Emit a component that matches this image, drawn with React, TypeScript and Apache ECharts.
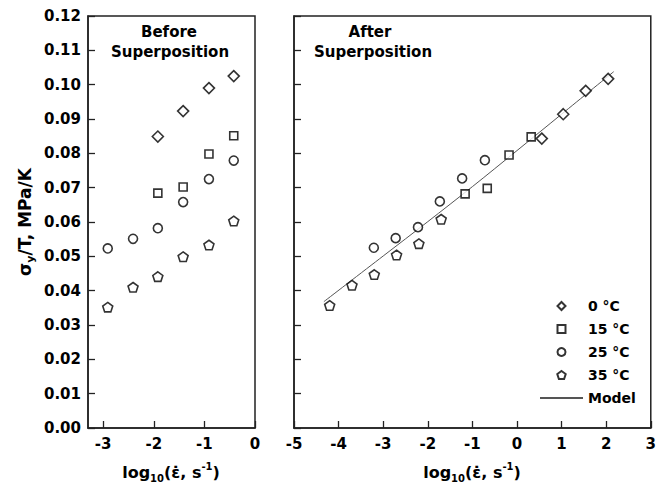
import React, { useEffect, useRef } from 'react';
import * as echarts from 'echarts';

const FONT = '"DejaVu Sans", "Liberation Sans", sans-serif';

// Before superposition
const beforeX6 = [-2.91, -2.41, -1.92, -1.42, -0.91, -0.42];
const beforeX4 = [-1.92, -1.42, -0.91, -0.42];
const before0C = [0.0849, 0.0923, 0.099, 0.1025];
const before15C = [0.0684, 0.0702, 0.0798, 0.0851];
const before25C = [0.0523, 0.0551, 0.0582, 0.0658, 0.0725, 0.0779];
const before35C = [0.0352, 0.041, 0.0441, 0.0499, 0.0533, 0.0603];

// After superposition
const after0X = [0.556, 1.037, 1.54, 2.044];
const after0C = [0.0843, 0.0914, 0.0982, 0.1017];
const after15X = [-1.163, -0.667, -0.178, 0.318];
const after15C = [0.0682, 0.0698, 0.0795, 0.0848];
const after25X = [-3.21, -2.72, -2.22, -1.73, -1.23, -0.72];
const after25C = [0.0525, 0.0553, 0.0585, 0.066, 0.0727, 0.078];
const after35X = [-4.2, -3.7, -3.2, -2.7, -2.2, -1.7];
const after35C = [0.0357, 0.0416, 0.0447, 0.0504, 0.0537, 0.0608];

// Model curve
const modelX = [-4.33, -3, -2, -1, 0, 1, 2.17];
const modelY = [0.0368, 0.0501, 0.0601, 0.0703, 0.0808, 0.0914, 0.1038];

const leftTicks = [-3, -2, -1, 0];
const seriesNames = ['0 °C', '15 °C', '25 °C', '35 °C', 'Model'];

const PENTAGON = 'path://M0,-10 L9.51,-3.09 L5.88,8.09 L-5.88,8.09 L-9.51,-3.09 Z';
const DIAMOND = 'path://M0,-10 L10,0 L0,10 L-10,0 Z';
const SQUARE = 'path://M0,0 L10,0 L10,10 L0,10 Z';

const zip = (xs: number[], ys: number[]) => xs.map((x, i) => [x, ys[i]]);

const markerStyle = { color: '#fff', borderColor: '#000', borderWidth: 1.6 };

function scatter(name: string, idx: number, xs: number[], ys: number[], symbol: string, size: number) {
  return {
    type: 'scatter',
    name,
    xAxisIndex: idx,
    yAxisIndex: idx,
    data: zip(xs, ys),
    symbol,
    symbolSize: size,
    symbolKeepAspect: true,
    itemStyle: markerStyle,
    emphasis: { disabled: true },
    z: 3,
  };
}

export default function App() {
  const ref = useRef<HTMLDivElement>(null);
  useEffect(() => {
    document.body.style.margin = '0';
    const chart = echarts.init(ref.current!, null, { renderer: 'svg' });
    const axisLine = { show: true, onZero: false, lineStyle: { color: '#222', width: 1.5 } };
    const labelStyle = { color: '#000', fontFamily: FONT, fontWeight: 'bold' as const, fontSize: 15 };
    const yAxisBase = {
      type: 'value',
      min: 0,
      max: 0.12,
      interval: 0.01,
      axisLine,
      axisTick: { show: true, inside: true, length: 7, lineStyle: { color: '#222', width: 1.3 } },
      splitLine: { show: false },
    };
    const sub = { fontFamily: FONT, fontWeight: 'bold', fontSize: 10, lineHeight: 10, verticalAlign: 'bottom', fill: '#000', color: '#000' };
    const sup = { fontFamily: FONT, fontWeight: 'bold', fontSize: 10, lineHeight: 10, verticalAlign: 'top', fill: '#000', color: '#000' };
    const main = { fontFamily: FONT, fontWeight: 'bold', fontSize: 16, lineHeight: 22, fill: '#000', color: '#000' };
    const xTitle = '{n|log}{s|10}{n|(ε\u0307, s}{p|-1}{n|)}';
    const titleFont = 'bold 15px ' + FONT;
    const option: any = {
      animation: false,
      backgroundColor: '#fff',
      grid: [
        { left: 88, top: 16, width: 167, height: 412, show: true, borderColor: '#222', borderWidth: 1.5, backgroundColor: 'transparent' },
        { left: 294, top: 16, width: 357, height: 412, show: true, borderColor: '#222', borderWidth: 1.5, backgroundColor: 'transparent' },
      ],
      xAxis: [
        {
          type: 'value',
          gridIndex: 0,
          min: -3.3,
          max: 0,
          axisLine,
          axisTick: { show: true, inside: true, length: 7, customValues: leftTicks, lineStyle: { color: '#222', width: 1.3 } },
          axisLabel: { ...labelStyle, margin: 8, customValues: leftTicks, showMinLabel: true, showMaxLabel: true },
          splitLine: { show: false },
        },
        {
          type: 'value',
          gridIndex: 1,
          min: -5,
          max: 3,
          interval: 1,
          axisLine,
          axisTick: { show: true, inside: true, length: 7, lineStyle: { color: '#222', width: 1.3 } },
          axisLabel: { ...labelStyle, margin: 8 },
          splitLine: { show: false },
        },
      ],
      yAxis: [
        {
          ...yAxisBase,
          gridIndex: 0,
          axisLabel: { ...labelStyle, margin: 7, formatter: (v: number) => v.toFixed(2) },
        },
        {
          ...yAxisBase,
          gridIndex: 1,
          axisLabel: { show: false },
        },
      ],
      legend: {
        data: [
          { name: '0 °C', icon: DIAMOND },
          { name: '15 °C', icon: SQUARE },
          { name: '25 °C', icon: 'circle' },
          { name: '35 °C', icon: PENTAGON },
          { name: 'Model' },
        ],
        orient: 'vertical',
        left: 539,
        top: 299,
        padding: 0,
        itemWidth: 43,
        itemHeight: 8,
        itemGap: 9,
        selectedMode: false,
        textStyle: { color: '#000', fontFamily: FONT, fontWeight: 'bold', fontSize: 14 },
      },
      series: [
        scatter(seriesNames[0], 0, beforeX4, before0C, DIAMOND, 11),
        scatter(seriesNames[1], 0, beforeX4, before15C, SQUARE, 8),
        scatter(seriesNames[2], 0, beforeX6, before25C, 'circle', 9),
        scatter(seriesNames[3], 0, beforeX6, before35C, PENTAGON, 10),
        {
          type: 'line',
          name: seriesNames[4],
          xAxisIndex: 1,
          yAxisIndex: 1,
          data: zip(modelX, modelY),
          symbol: 'none',
          smooth: 0.3,
          lineStyle: { color: '#555', width: 1 },
          itemStyle: { color: 'rgba(0,0,0,0)', borderColor: 'rgba(0,0,0,0)', borderWidth: 0 },
          emphasis: { disabled: true },
          z: 2,
        },
        scatter(seriesNames[0], 1, after0X, after0C, DIAMOND, 11),
        scatter(seriesNames[1], 1, after15X, after15C, SQUARE, 8),
        scatter(seriesNames[2], 1, after25X, after25C, 'circle', 9),
        scatter(seriesNames[3], 1, after35X, after35C, PENTAGON, 10),
      ],
      graphic: [
        { type: 'text', x: 169, y: 32, style: { text: 'Before', font: titleFont, fill: '#000', align: 'center', verticalAlign: 'middle', textAlign: 'center', textVerticalAlign: 'middle' } },
        { type: 'text', x: 170, y: 52, style: { text: 'Superposition', font: titleFont, fill: '#000', align: 'center', verticalAlign: 'middle', textAlign: 'center', textVerticalAlign: 'middle' } },
        { type: 'text', x: 370, y: 32, style: { text: 'After', font: titleFont, fill: '#000', align: 'center', verticalAlign: 'middle', textAlign: 'center', textVerticalAlign: 'middle' } },
        { type: 'text', x: 373, y: 52, style: { text: 'Superposition', font: titleFont, fill: '#000', align: 'center', verticalAlign: 'middle', textAlign: 'center', textVerticalAlign: 'middle' } },
        { type: 'text', x: 171, y: 472, style: { text: xTitle, rich: { n: main, s: sub, p: sup }, align: 'center', verticalAlign: 'middle', textAlign: 'center', textVerticalAlign: 'middle' } },
        { type: 'text', x: 472, y: 472, style: { text: xTitle, rich: { n: main, s: sub, p: sup }, align: 'center', verticalAlign: 'middle', textAlign: 'center', textVerticalAlign: 'middle' } },
        {
          type: 'text',
          x: 25,
          y: 222,
          rotation: Math.PI / 2,
          style: {
            text: '{n|σ}{s|y}{n|/T, MPa/K}',
            rich: { n: { ...main, fontSize: 17 }, s: { ...sub, fontSize: 11, lineHeight: 11 } },
            align: 'center', verticalAlign: 'middle', textAlign: 'center', textVerticalAlign: 'middle',
          },
        },
      ],
    };
    chart.setOption(option);
    return () => chart.dispose();
  }, []);
  return <div ref={ref} style={{ position: 'absolute', left: 0, top: 0, width: 659, height: 487 }} />;
}
